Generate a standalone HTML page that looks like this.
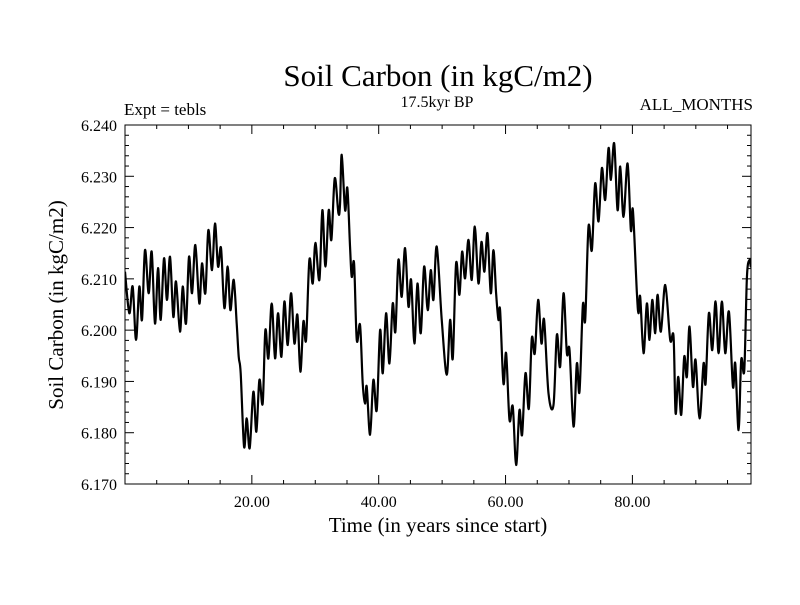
<!DOCTYPE html>
<html><head><meta charset="utf-8"><style>
body{margin:0;background:#fff}
svg text{font-family:"Liberation Serif",serif;fill:#000}
</style></head><body>
<svg id="chart" width="800" height="600" xmlns="http://www.w3.org/2000/svg">
<text x="438" y="86" font-size="31" text-anchor="middle">Soil Carbon (in kgC/m2)</text>
<text x="437" y="107" font-size="16" text-anchor="middle">17.5kyr BP</text>
<text x="124" y="115" font-size="17">Expt = tebls</text>
<text x="753" y="110" font-size="17" text-anchor="end">ALL_MONTHS</text>
<text x="438" y="532" font-size="21" text-anchor="middle">Time (in years since start)</text>
<text transform="translate(63,305) rotate(-90)" font-size="21" text-anchor="middle">Soil Carbon (in kgC/m2)</text>
<defs><clipPath id="clip"><rect x="125" y="125" width="626" height="359"/></clipPath></defs>
<g id="ticks"></g>
<path id="line" fill="none" stroke="#000" stroke-width="2.2" clip-path="url(#clip)"/>
<rect x="125" y="125" width="626" height="359" fill="none" stroke="#000" stroke-width="1"/>
</svg>
<script>
const years=[0,0.68,1.21,1.74,2.26,2.68,3.15,3.73,4.21,4.73,5.21,5.63,6.15,6.62,7.10,7.62,8.04,8.67,9.10,9.62,10.09,10.57,11.09,11.72,12.14,12.67,13.14,13.72,14.19,14.67,15.14,15.67,16.19,16.61,17.14,17.61,17.93,18.24,18.77,19.19,19.66,20.24,20.71,21.19,21.71,22.13,22.61,23.13,23.66,24.13,24.66,25.13,25.66,26.18,26.71,27.18,27.65,28.13,28.55,29.07,29.60,30.02,30.65,31.12,31.60,32.12,32.54,33.07,33.65,33.91,
34.17,34.70,35.06,35.48,35.75,36.12,36.54,37.06,37.48,37.85,38.11,38.64,39.16,39.69,40.22,40.64,41.16,41.69,42.21,42.63,43.11,43.63,44.16,44.69,45.11,45.63,46.11,46.63,47.16,47.73,48.21,48.63,49.15,49.94,50.73,51.26,51.68,52.20,52.73,53.15,53.62,54.15,54.67,55.15,55.73,56.20,56.67,57.15,57.67,58.09,58.51,58.88,59.14,59.67,60.09,60.62,61.14,61.67,62.19,62.61,63.14,63.67,64.14,64.61,65.14,65.66,66.08,66.77,
67.56,68.09,68.61,69.14,69.67,70.09,70.72,71.24,71.66,72.19,72.56,73.08,73.61,74.13,74.66,75.19,75.71,76.24,76.61,77.13,77.66,78.08,78.60,79.24,79.76,80.08,80.71,80.97,81.23,81.76,82.28,82.70,83.13,83.60,83.97,84.49,85.18,85.96,86.49,86.81,87.23,87.70,88.17,88.59,89.01,89.54,89.96,90.59,91.22,91.54,92.06,92.59,93.11,93.59,94.11,94.64,95.22,95.85,96.22,96.74,97.16,97.64,98.06,98.48,98.69,98.96];
const carbon=[6.2114,6.2033,6.2085,6.1981,6.2085,6.2020,6.2156,6.2072,6.2153,6.2013,6.2121,6.2020,6.2140,6.2059,6.2143,6.2026,6.2095,6.1997,6.2085,6.2013,6.2143,6.2072,6.2166,6.2052,6.2130,6.2072,6.2195,6.2117,6.2208,6.2124,6.2160,6.2043,6.2124,6.2039,6.2098,6.2013,6.1948,6.1916,6.1773,6.1828,6.1770,6.1880,6.1802,6.1903,6.1857,6.2000,6.1945,6.2052,6.1945,6.2033,6.1948,6.2056,6.1971,6.2072,6.1974,6.2030,6.1919,6.2017,6.1981,6.2137,6.2091,6.2170,6.2098,6.2234,6.2124,6.2234,6.2176,6.2296,6.2228,6.2247,
6.2342,6.2234,6.2277,6.2163,6.2104,6.2130,6.1981,6.2010,6.1896,6.1857,6.1890,6.1796,6.1903,6.1844,6.2000,6.1916,6.2033,6.1935,6.2052,6.1997,6.2137,6.2065,6.2160,6.2046,6.2098,6.1974,6.2091,6.1994,6.2124,6.2039,6.2117,6.2059,6.2163,6.2020,6.1913,6.2020,6.1945,6.2130,6.2069,6.2153,6.2101,6.2176,6.2098,6.2202,6.2091,6.2172,6.2114,6.2189,6.2072,6.2156,6.2072,6.2020,6.2039,6.1896,6.1955,6.1825,6.1851,6.1737,6.1844,6.1796,6.1916,6.1847,6.1984,6.1955,6.2059,6.1974,6.2020,6.1877,
6.1854,6.1991,6.1929,6.2072,6.1955,6.1961,6.1812,6.1935,6.1880,6.2049,6.2020,6.2202,6.2156,6.2286,6.2212,6.2316,6.2254,6.2355,6.2293,6.2364,6.2234,6.2319,6.2221,6.2325,6.2195,6.2234,6.2072,6.2033,6.2065,6.1955,6.2052,6.1981,6.2059,6.1994,6.2069,6.1997,6.2088,6.1981,6.1987,6.1838,6.1909,6.1835,6.1948,6.1909,6.2007,6.1890,6.1942,6.1828,6.1935,6.1896,6.2033,6.1961,6.2056,6.1955,6.2056,6.1955,6.2036,6.1890,6.1935,6.1805,6.1942,6.1922,6.2104,6.2137,6.2124,6.2150];
const yTickLabels=["6.170","6.180","6.190","6.200","6.210","6.220","6.230","6.240"];
const xTickLabels=["20.00","40.00","60.00","80.00"];
const X0=125,X1=751,Y0=484,Y1=125,XMAX=98.7,YMIN=6.17,YMAX=6.24;
const sx=v=>X0+(v/XMAX)*(X1-X0);
const sy=v=>Y0-(v-YMIN)/(YMAX-YMIN)*(Y0-Y1);
const NS="http://www.w3.org/2000/svg";
const svg=document.getElementById('chart'),tg=document.getElementById('ticks');
function ln(x1,y1,x2,y2,name){const l=document.createElementNS(NS,'line');l.setAttribute('x1',x1);l.setAttribute('y1',y1);l.setAttribute('x2',x2);l.setAttribute('y2',y2);l.setAttribute('stroke','#000');l.setAttribute('stroke-width','1');


tg.appendChild(l);}
function tx(x,y,s,anchor,name){const t=document.createElementNS(NS,'text');t.setAttribute('x',x);t.setAttribute('y',y);t.setAttribute('font-size','16');t.setAttribute('text-anchor',anchor);t.textContent=s;


svg.appendChild(t);}
for(let i=0;i<=35;i++){const v=YMIN+i*0.002,y=sy(v),L=(i%5===0)?9:4;
ln(X0,y,X0+L,y,'y-tick');ln(X1,y,X1-L,y,'y-tick-right');}
yTickLabels.forEach(s=>tx(117,sy(parseFloat(s))+6,s,'end','y-tick-label'));
for(let v=5;v<XMAX;v+=5){const x=sx(v),L=(v%20===0)?9:4;
ln(x,Y0,x,Y0-L,'x-tick');ln(x,Y1,x,Y1+L,'x-tick-top');}
xTickLabels.forEach(s=>tx(sx(parseFloat(s)),507,s,'middle','x-tick-label'));
const P=years.map((t,i)=>[sx(t),sy(carbon[i])]);
let d='M'+P[0][0].toFixed(2)+','+P[0][1].toFixed(2);
for(let i=0;i<P.length-1;i++){const p0=P[Math.max(0,i-1)],p1=P[i],p2=P[i+1],p3=P[Math.min(P.length-1,i+2)];
const c1=[p1[0]+(p2[0]-p0[0])/6,p1[1]+(p2[1]-p0[1])/6],c2=[p2[0]-(p3[0]-p1[0])/6,p2[1]-(p3[1]-p1[1])/6];
d+='C'+c1[0].toFixed(2)+','+c1[1].toFixed(2)+' '+c2[0].toFixed(2)+','+c2[1].toFixed(2)+' '+p2[0].toFixed(2)+','+p2[1].toFixed(2);}
document.getElementById('line').setAttribute('d',d);
</script>
</body></html>
